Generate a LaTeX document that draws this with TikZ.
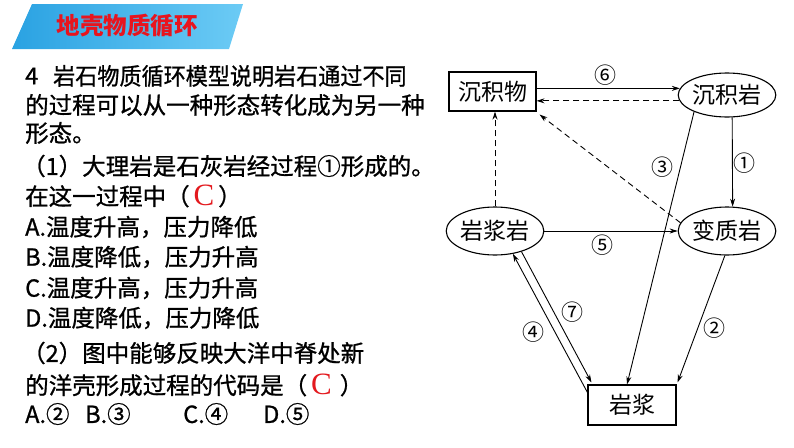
\documentclass[tikz,border=0pt]{standalone}
\usepackage{fontspec}
\usetikzlibrary{arrows.meta,shapes.geometric,calc}
\setmainfont{Noto Sans CJK SC}
\newfontfamily\hei[RawFeature={embolden=0.9}]{Noto Sans CJK SC}
\newfontfamily\titlefont{Noto Sans CJK SC}
\newfontfamily\song{Noto Sans CJK SC}
\newfontfamily\tms{Liberation Serif}
\definecolor{ansred}{HTML}{E3191E}
\definecolor{bannerL}{HTML}{2AA2E2}
\definecolor{bannerR}{HTML}{6CCBF5}
\definecolor{titlered}{HTML}{E8141E}
\begin{document}
\begin{tikzpicture}[x=1pt,y=-1pt,
  txt/.style={anchor=west,inner sep=0pt,font=\hei\fontsize{23.5pt}{24pt}\selectfont},
  rbox/.style={draw,line width=1.1pt,inner sep=0pt,font=\song\fontsize{23pt}{23pt}\selectfont},
  rell/.style={ellipse,draw,line width=1.1pt,inner sep=0pt,font=\song\fontsize{23pt}{23pt}\selectfont},
  num/.style={inner sep=0pt,font=\song\fontsize{22pt}{22pt}\selectfont},
  arr/.style={line width=0.9pt,-{Stealth[length=8pt,width=5pt]}},
  darr/.style={arr,dash pattern=on 6pt off 4pt}
]
\useasboundingbox (0,0) rectangle (794,447);
% banner
\shade[left color=bannerL,right color=bannerR] (32,4) -- (243,4) -- (229,49) -- (12,49) -- cycle;
\node[inner sep=0pt,text=titlered,font=\titlefont\bfseries\fontsize{23.5pt}{23.5pt}\selectfont] (title) at (127,26) {地壳物质循环};
% question text
\node[txt] (q4) at (25,76) {4};
\node[txt] (l1) at (53,76) {\scalebox{0.94}[1]{岩石物质循环模型说明岩石通过不同}};
\node[txt] (l2) at (25,105) {的过程可以从一种形态转化成为另一种};
\node[txt] (l3) at (25,133) {形态。};
\node[txt] (l4) at (22,166) {（1）大理岩是石灰岩经过程①形成的。};
\node[txt] (l5) at (25,196) {在这一过程中（\,\textcolor{ansred}{\tms\fontsize{31pt}{31pt}\selectfont C}\,）};
\node[txt] (oa) at (25,227) {A.温度升高，压力降低};
\node[txt] (ob) at (25,257) {B.温度降低，压力升高};
\node[txt] (oc) at (25,288) {C.温度升高，压力升高};
\node[txt] (od) at (25,318) {D.温度降低，压力降低};
\node[txt] (l6) at (22,353) {（2）图中能够反映大洋中脊处新};
\node[txt] (l7) at (25,385) {的洋壳形成过程的代码是（\,\textcolor{ansred}{\tms\fontsize{31pt}{31pt}\selectfont C}\hspace{8pt}）};
\node[txt] (a2) at (25,414) {A.②};
\node[txt] (b3) at (85,414) {B.③};
\node[txt] (c4) at (183,414) {C.④};
\node[txt] (d5) at (263,414) {D.⑤};
% diagram nodes
\node[rbox,minimum width=87pt,minimum height=39pt] (sjw) at (492.5,91.5) {沉积物};
\node[rell,minimum width=92pt,minimum height=44pt] (sjy) at (727,95) {沉积岩};
\node[rell,minimum width=96pt,minimum height=48pt] (yjy) at (495,231) {岩浆岩};
\node[rell,minimum width=92pt,minimum height=48pt] (bzy) at (727,231) {变质岩};
\node[rbox,minimum width=88pt,minimum height=40pt] (ym) at (632,405) {岩浆};
% connectors
\draw[arr] (sjw.east |- sjy.172) -- (sjy.172);
\draw[darr] (sjy.187) -- (sjw.east |- sjy.187);
\draw[darr] (bzy.170) -- ($(sjw.south east)+(3,3)$);
\draw[darr] (yjy.north) -- (yjy.north |- sjw.south);
\draw[arr] (sjy.-77) -- (bzy.77);
\draw[arr] (sjy.-153) -- ($(ym.north)+(-5,0)$);
\draw[arr] (yjy.east) -- (bzy.west);
\draw[arr] (bzy.-95) -- ($(ym.north east)+(1,-2)$);
\draw[arr] ($(ym.north west)+(0,8)$) -- (yjy.-52);
\draw[arr] (yjy.-38) -- ($(ym.north west)+(4,-2)$);
% labels
\node[num] (n6) at (605,75) {⑥};
\node[num] (n1) at (744,163) {①};
\node[num] (n3) at (662,167) {③};
\node[num] (n5) at (602,245) {⑤};
\node[num] (n2) at (714,328) {②};
\node[num] (n4) at (533,332) {④};
\node[num] (n7) at (572,312) {⑦};
\end{tikzpicture}
\end{document}
